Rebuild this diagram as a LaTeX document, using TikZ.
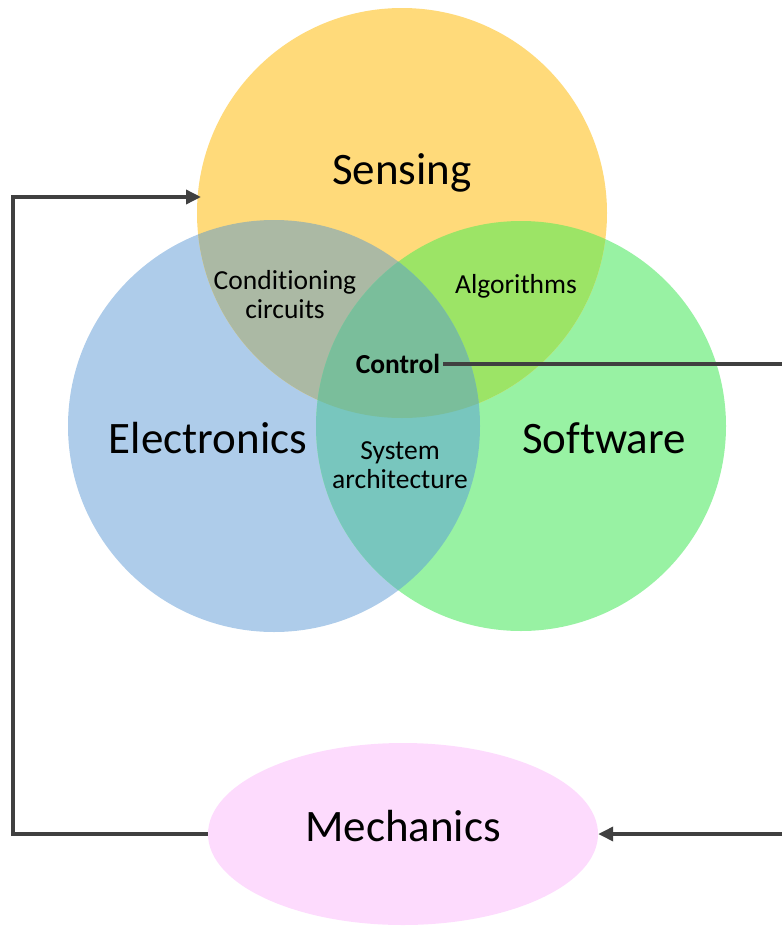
\documentclass[tikz,border=0pt]{standalone}
\usepackage{fontspec}
\setmainfont{Carlito}[Ligatures=CommonOff]
\usetikzlibrary{arrows.meta,shapes.geometric}

% region colours
\definecolor{senseCol}{RGB}{255,218,122}
\definecolor{elecCol}{RGB}{174,204,234}
\definecolor{softCol}{RGB}{152,242,163}
\definecolor{seCol}{RGB}{171,185,164}
\definecolor{swCol}{RGB}{156,228,102}
\definecolor{ewCol}{RGB}{120,198,190}
\definecolor{allCol}{RGB}{122,190,155}
\definecolor{mechCol}{RGB}{253,219,253}
\definecolor{lineCol}{RGB}{64,64,64}

\begin{document}
\begin{tikzpicture}[x=1pt,y=-1pt,
  bigtext/.style={font=\fontsize{45}{54}\selectfont, inner sep=0pt},
  smalltext/.style={font=\fontsize{27.5}{29}\selectfont, align=center, inner sep=0pt},
  mechshape/.style={ellipse, fill=mechCol, draw=none, inner sep=0pt,
                    minimum width=390pt, minimum height=182pt},
  link/.style={draw=lineCol, line width=3.5pt},
  tip/.style={-{Triangle[length=15pt,width=14pt]}}]
\useasboundingbox (0,0) rectangle (782,926);

% circle centres
\coordinate (cS) at (402,213);
\coordinate (cE) at (274,426);
\coordinate (cW) at (521,426);

% single regions
\fill[elecCol]  (cE) circle[radius=206];
\fill[softCol]  (cW) circle[radius=205];
\fill[senseCol] (cS) circle[radius=205];

% pairwise overlaps
\begin{scope}
  \clip (cS) circle[radius=205];
  \fill[seCol] (cE) circle[radius=206];
\end{scope}
\begin{scope}
  \clip (cS) circle[radius=205];
  \fill[swCol] (cW) circle[radius=205];
\end{scope}
\begin{scope}
  \clip (cE) circle[radius=206];
  \fill[ewCol] (cW) circle[radius=205];
\end{scope}
% triple overlap
\begin{scope}
  \clip (cS) circle[radius=205];
  \clip (cE) circle[radius=206];
  \fill[allCol] (cW) circle[radius=205];
\end{scope}

% labels
\node[bigtext] (sensing) at (402,173) {Sensing};
\node[bigtext] (electronics) at (208,438) {Electronics};
\node[bigtext] (software) at (604,438) {Software};
\node[smalltext] (cond) at (285,295) {Conditioning\\circuits};
\node[smalltext] (algo) at (516,286) {Algorithms};
\node[smalltext, font=\fontsize{27.5}{29}\selectfont\bfseries, inner xsep=3pt] (control) at (398,364) {Control};
\node[smalltext] (sysarch) at (400,465) {System\\architecture};

% mechanics
\node[mechshape] (mech) at (403,834) {};
\node[bigtext] (mechtext) at (403,826) {Mechanics};

% connectors
\coordinate (lcorner) at (13,197);
\coordinate (sensein) at (201,197);
\coordinate (ctrlout) at (782,364);
\coordinate (mechin) at (782,834);

\draw[link, tip] (mech.west) -| (lcorner) -- (sensein);
\draw[link] (control.east) -- (control.east -| ctrlout);
\draw[link, tip] (mechin) -- (mech.east);
\end{tikzpicture}
\end{document}
